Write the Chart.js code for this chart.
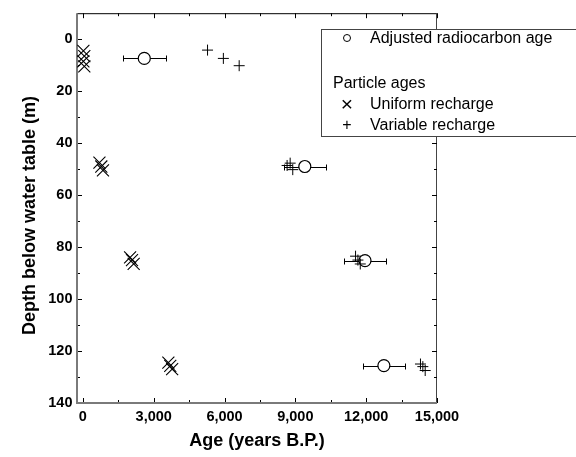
<!DOCTYPE html>
<html>
<head>
<meta charset="utf-8">
<script src="https://cdn.jsdelivr.net/npm/chart.js@4.4.0/dist/chart.umd.min.js"></script>
<style>
html, body { margin: 0; padding: 0; background: #fff; overflow: hidden; }
#wrap { position: relative; width: 576px; height: 457px; }
#legend { position: absolute; left: 321px; top: 29px; width: 280px; height: 106px; border: 1px solid #444; background: #fff;
  font-family: "Liberation Sans", Arial, sans-serif; font-size: 16px; color: #000; }
#legend div { position: absolute; white-space: nowrap; line-height: 20px; }
#legend .sym { width: 14px; text-align: center; }
#legend .big { font-size: 21px; }
#legend .ring { display: inline-block; width: 6px; height: 6px; border: 1px solid #000; border-radius: 50%; vertical-align: 1px; }
</style>
</head>
<body>
<div id="wrap">
  <canvas id="ItemC" width="576" height="457"></canvas>
  <div id="legend">
    <div class="sym" style="left:18px;top:-2px"><span class="ring"></span></div>
    <div style="left:48px;top:-2px">Adjusted radiocarbon age</div>
    <div style="left:11px;top:43px">Particle ages</div>
    <div class="sym big" style="left:18px;top:64px">×</div>
    <div style="left:48px;top:64px">Uniform recharge</div>
    <div class="sym" style="left:18px;top:85px">+</div>
    <div style="left:48px;top:85px">Variable recharge</div>
  </div>
</div>
<script>
var fontFam = '"Liberation Sans", Arial, sans-serif';

// adjusted radiocarbon ages with +/- error
var radioAge = [2600, 9400, 11950, 12750];
var radioDepth = [7.4, 49, 85.2, 125.6];
var radioErr = [900, 900, 900, 880];

// particle ages, uniform recharge
var uniformAge = [20, 60, 20, 60, 700, 780, 850, 2000, 2080, 2150, 3620, 3700, 3780];
var uniformDepth = [4.5, 6.5, 8.5, 10.5, 47.5, 49, 50.5, 84, 85, 86.5, 124.5, 125.7, 127];

// particle ages, variable recharge
var variableAge = [5280, 5950, 6620, 8650, 8780, 8890, 11550, 11650, 11750, 14300, 14400, 14500];
var variableDepth = [4.2, 7.4, 10.2, 48.6, 47.7, 50.2, 83.5, 85, 86.5, 125, 126, 127.5];

var xTicks = [0, 3000, 6000, 9000, 12000, 15000];
var xMinor = [1500, 4500, 7500, 10500, 13500];
var yTicks = [0, 20, 40, 60, 80, 100, 120, 140];
var yMinor = [10, 30, 50, 70, 90, 110, 130];

function pts(xs, ys) {
    return xs.map(function(v, i) { return {x: v, y: ys[i]}; });
}

function line(ctx, x0, y0, x1, y1) {
    ctx.beginPath();
    ctx.moveTo(x0, y0);
    ctx.lineTo(x1, y1);
    ctx.stroke();
}

var frame = {
    id: 'frame',
    beforeDatasetsDraw: function(chart) {
        var ctx = chart.ctx, a = chart.chartArea, x = chart.scales.x, y = chart.scales.y;
        ctx.save();
        ctx.strokeStyle = '#000';
        ctx.lineWidth = 1;
        line(ctx, a.left, a.top + 0.5, a.right, a.top + 0.5);
        ctx.strokeStyle = '#444';
        line(ctx, a.right - 0.5, a.top, a.right - 0.5, a.bottom);
        ctx.strokeStyle = '#000';
        xTicks.concat(xMinor).forEach(function(v) {
            var len = xTicks.indexOf(v) >= 0 ? 5 : 3;
            var px = Math.round(x.getPixelForValue(v)) + 0.5;
            line(ctx, px, a.bottom, px, a.bottom - len);
            line(ctx, px, a.top, px, a.top + len);
        });
        yTicks.concat(yMinor).forEach(function(v) {
            var len = yTicks.indexOf(v) >= 0 ? 5 : 3;
            var py = Math.round(y.getPixelForValue(v)) + 0.5;
            line(ctx, a.left, py, a.left + len, py);
            line(ctx, a.right, py, a.right - len, py);
        });
        ctx.strokeStyle = '#7a7a7a';
        ctx.lineWidth = 2;
        line(ctx, a.left, a.top, a.left, a.bottom + 1);
        line(ctx, a.left - 1, a.bottom, a.right, a.bottom);

        // error bars for radiocarbon ages
        ctx.strokeStyle = '#000';
        ctx.lineWidth = 1;
        radioAge.forEach(function(v, i) {
            var x0 = Math.round(x.getPixelForValue(v - radioErr[i])) + 0.5;
            var x1 = Math.round(x.getPixelForValue(v + radioErr[i])) + 0.5;
            var py = Math.round(y.getPixelForValue(radioDepth[i])) + 0.5;
            line(ctx, x0, py, x1, py);
            line(ctx, x0, py - 3, x0, py + 3);
            line(ctx, x1, py - 3, x1, py + 3);
        });
        ctx.restore();
    }
};

var ctx = document.getElementById("ItemC").getContext("2d");

var chartData = {
    type: 'scatter',
    data: {
        datasets: [
            {
                label: 'Uniform recharge',
                data: pts(uniformAge, uniformDepth),
                pointStyle: 'crossRot',
                pointRadius: 8.5,
                borderColor: '#000',
                borderWidth: 1.1
            },
            {
                label: 'Variable recharge',
                data: pts(variableAge, variableDepth),
                pointStyle: 'cross',
                pointRadius: 5.5,
                borderColor: '#000',
                borderWidth: 1
            },
            {
                label: 'Adjusted radiocarbon age',
                data: pts(radioAge, radioDepth),
                pointStyle: 'circle',
                pointRadius: 6,
                borderColor: '#000',
                backgroundColor: '#fff',
                borderWidth: 1.2
            }
        ]
    },
    options: {
        responsive: false,
        animation: false,
        layout: {padding: {left: 0, right: 139, top: 12, bottom: 0}},
        plugins: {legend: {display: false}, tooltip: {enabled: false}},
        scales: {
            x: {
                type: 'linear',
                min: -250,
                max: 15000,
                grid: {display: false, drawTicks: false},
                border: {display: false},
                afterBuildTicks: function(s) { s.ticks = xTicks.map(function(v) { return {value: v}; }); },
                afterFit: function(s) { s.height = 54; },
                ticks: {
                    padding: 5, color: '#000', autoSkip: false, maxRotation: 0,
                    font: {family: fontFam, size: 14.5, weight: 'bold'},
                    callback: function(v) { return v.toLocaleString('en-US'); }
                },
                title: {
                    display: true, text: 'Age (years B.P.)', color: '#000',
                    font: {family: fontFam, size: 18, weight: 'bold'},
                    padding: {top: 0, bottom: 5}
                }
            },
            y: {
                type: 'linear',
                reverse: true,
                min: -10,
                max: 140,
                grid: {display: false, drawTicks: false},
                border: {display: false},
                afterBuildTicks: function(s) { s.ticks = yTicks.map(function(v) { return {value: v}; }); },
                afterFit: function(s) { s.width = 77; },
                ticks: {
                    padding: 4.5, color: '#000', autoSkip: false,
                    font: {family: fontFam, size: 14.5, weight: 'bold'}
                },
                title: {
                    display: true, text: 'Depth below water table (m)   ', color: '#000',
                    font: {family: fontFam, size: 18, weight: 'bold'},
                    padding: {top: 19, bottom: 0}
                }
            }
        }
    },
    plugins: [frame]
};

var myChart = new Chart(ctx, chartData);
</script>
</body>
</html>
